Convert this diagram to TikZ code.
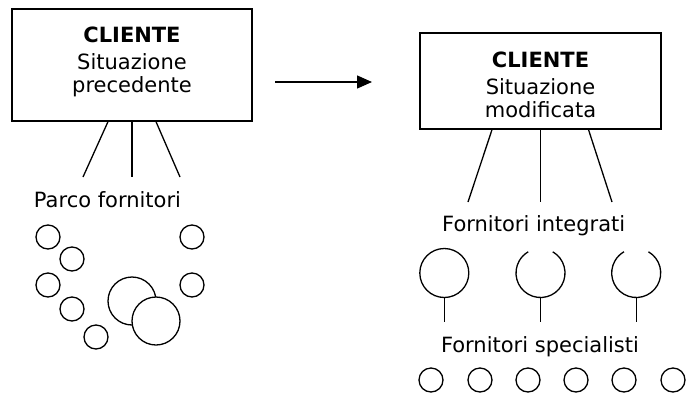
\documentclass[tikz,border=0pt]{standalone}
\usepackage{fontspec}
\setmainfont{DejaVu Sans}
\usetikzlibrary{arrows.meta}

\begin{document}
\begin{tikzpicture}[x=1pt,y=-1pt,line width=1.3pt,
  cbox/.style={draw,rectangle,inner sep=0pt},
  txt/.style={inner sep=0pt,font=\fontsize{21}{22.8}\selectfont}]
\useasboundingbox (0,0) rectangle (687,394);

% situazione precedente
\node[cbox,minimum width=240pt,minimum height=112pt] (prec) at (132,65) {};
\node[txt,anchor=north,align=center] (precT) at (132,26.3) {\textbf{CLIENTE}\\[4.3pt]Situazione\\precedente};
\coordinate (p1) at (83,177);
\coordinate (p2) at (132,177);
\coordinate (p3) at (180,177);
\draw ([xshift=-24pt]prec.south) -- (p1);
\draw (prec.south) -- (p2);
\draw ([xshift=24pt]prec.south) -- (p3);
\node[txt,anchor=base] (parco) at (107.5,207.3) {Parco fornitori};
\foreach \x/\y in {48/237,72/259,48/285,72/309,96/337,192/237,192/285}{
 \draw (\x,\y) circle (12);
 }
\draw (132,301) circle (24);
\draw[fill=white] (156,321) circle (24);

% freccia
\coordinate (a1) at (275,82);
\coordinate (a2) at (372,82);
\draw[-{Triangle[length=15pt,width=13pt]}] (a1) -- (a2);

% situazione modificata
\node[cbox,minimum width=241pt,minimum height=96pt] (mod) at (540.5,81) {};
\node[txt,anchor=north,align=center] (modT) at (540.5,51.5) {\textbf{CLIENTE}\\[4.3pt]Situazione\\modificata};
\coordinate (m1) at (468,202);
\coordinate (m2) at (540.5,202);
\coordinate (m3) at (612,202);
\draw ([xshift=-48.5pt]mod.south) -- (m1);
\draw (mod.south) -- (m2);
\draw ([xshift=48pt]mod.south) -- (m3);
\node[txt,anchor=base] (integr) at (533.7,231.7) {Fornitori integrati};
\draw (444.3,273) circle (24.5);
\foreach \x in {540.5,636.2}{
 \draw (\x,273) ++(300:24.5) arc (300:600:24.5);
 }
\foreach \x in {444.3,540.5,636.2}{
 \draw (\x,297.5) -- (\x,322);
 }
\node[txt,anchor=base] (spec) at (540,352.3) {Fornitori specialisti};
\foreach \x in {431,480,528,576,624,673}{
 \draw (\x,380) circle (12);
 }
\end{tikzpicture}
\end{document}
